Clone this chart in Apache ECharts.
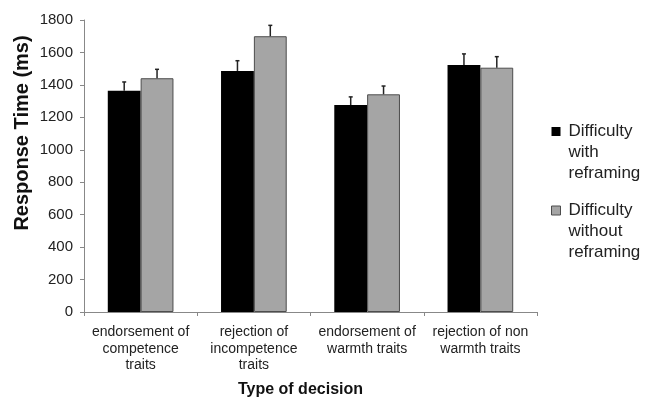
<!DOCTYPE html>
<html>
<head>
<meta charset="utf-8">
<script src="https://cdn.jsdelivr.net/npm/echarts@6/dist/echarts.min.js"></script>
<style>html,body{margin:0;padding:0;background:#fff}#c{width:647px;height:399px}</style>
</head>
<body>
<div id="c"></div>
<script>
const categories = ['endorsement of\ncompetence\ntraits', 'rejection of\nincompetence\ntraits', 'endorsement of\nwarmth traits', 'rejection of non\nwarmth traits'];
const seriesNames = ['Difficulty\nwith\nreframing', 'Difficulty\nwithout\nreframing'];
const withReframing = [1364, 1486, 1276, 1523];
const withReframingErr = [54, 63, 50, 68];
const withoutReframing = [1441, 1700, 1342, 1506];
const withoutReframingErr = [55, 67, 51, 68];
const yMin = 0, yMax = 1800, yStep = 200;
const yTitle = 'Response Time (ms)';
const xTitle = 'Type of decision';

const BAR_FRAC = 0.29;
function errSeries(vals, errs, sign) {
  return {
    type: 'custom',
    z: 5,
    silent: true,
    encode: { x: 0, y: 1 },
    data: vals.map((v, i) => [i, v, errs[i]]),
    renderItem: function (params, api) {
      const band = api.size([1, 0])[0];
      const base = api.coord([api.value(0), api.value(1)]);
      const top = api.coord([api.value(0), api.value(1) + api.value(2)]);
      const x = base[0] + sign * band * BAR_FRAC / 2;
      const st = { stroke: '#222', lineWidth: 1.5 };
      return {
        type: 'group',
        children: [
          { type: 'line', shape: { x1: x, y1: base[1], x2: x, y2: top[1] }, style: st },
          { type: 'line', shape: { x1: x - 2, y1: top[1], x2: x + 2, y2: top[1] }, style: st }
        ]
      };
    }
  };
}

const chart = echarts.init(document.getElementById('c'));
chart.setOption({
  animation: false,
  textStyle: { fontFamily: 'Liberation Sans, Arial, sans-serif' },
  grid: { left: 84, right: 110, top: 20, bottom: 87, containLabel: false, outerBoundsMode: 'none' },
  legend: {
    orient: 'vertical',
    left: 551,
    top: 79,
    padding: 0,
    itemWidth: 9,
    itemHeight: 9,
    itemGap: -26,
    formatter: function (name) { return '\n\n' + name; },
    data: [
      { name: seriesNames[0], icon: 'rect', itemStyle: { color: '#000', borderColor: '#000', borderWidth: 0 } },
      { name: seriesNames[1], icon: 'rect', itemStyle: { color: '#a5a5a5', borderColor: '#4d4d4d', borderWidth: 1 } }
    ],
    textStyle: { fontSize: 17, lineHeight: 21, color: '#222', padding: [0, 0, 0, 3] },
    selectedMode: false
  },
  xAxis: {
    type: 'category',
    data: categories,
    name: xTitle,
    nameLocation: 'middle',
    nameGap: 70,
    nameMoveOverlap: false,
    nameTextStyle: { fontSize: 16, fontWeight: 'bold', color: '#111', padding: [0, 20, 0, 0] },
    axisLine: { lineStyle: { color: '#888', width: 1 } },
    axisTick: { show: true, length: 4, lineStyle: { color: '#888' } },
    axisLabel: { fontSize: 14, lineHeight: 16.5, color: '#222', margin: 12, interval: 0 }
  },
  yAxis: {
    type: 'value',
    min: yMin, max: yMax, interval: yStep,
    name: yTitle,
    nameLocation: 'middle',
    nameGap: 52,
    nameMoveOverlap: false,
    nameRotate: 90,
    nameTextStyle: { fontSize: 20, fontWeight: 'bold', color: '#111', padding: [0, 0, 0, 66] },
    axisLine: { show: true, lineStyle: { color: '#888', width: 1 } },
    axisTick: { show: true, length: 4, lineStyle: { color: '#888' } },
    splitLine: { show: false },
    axisLabel: { fontSize: 15, color: '#222', margin: 11, formatter: function (v) { return String(v); } }
  },
  series: [
    { name: seriesNames[0], type: 'bar', data: withReframing, barWidth: (BAR_FRAC * 100) + '%', barGap: '0%',
      itemStyle: { color: '#000' } },
    { name: seriesNames[1], type: 'bar', data: withoutReframing, barWidth: (BAR_FRAC * 100) + '%', barGap: '0%',
      itemStyle: { color: '#a5a5a5', borderColor: '#4d4d4d', borderWidth: 1 } },
    errSeries(withReframing, withReframingErr, -1),
    errSeries(withoutReframing, withoutReframingErr, 1)
  ]
});
</script>
</body>
</html>
